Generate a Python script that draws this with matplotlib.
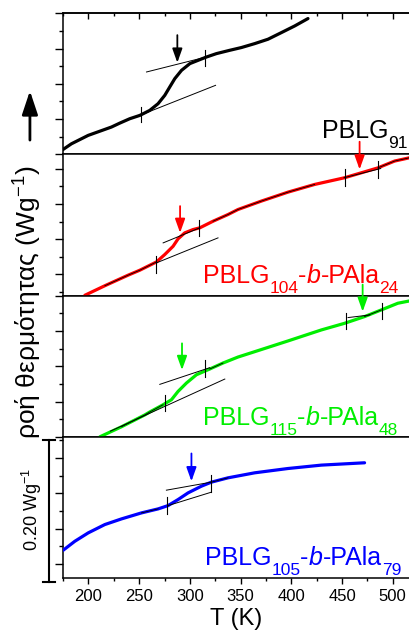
import numpy as np
import matplotlib
matplotlib.use("Agg")
import matplotlib.pyplot as plt
from matplotlib.ticker import MultipleLocator, NullFormatter
from matplotlib.transforms import blended_transform_factory, offset_copy

plt.rcParams['font.family'] = ['Liberation Sans', 'DejaVu Sans']
plt.rcParams['mathtext.fontset'] = 'custom'
plt.rcParams['mathtext.rm'] = 'Liberation Sans'
plt.rcParams['mathtext.it'] = 'Liberation Sans:italic'

# === DSC traces (T in K, heat flow in W/g, shifted per panel) ===
T_91 = [175, 183.2, 199.7, 222.6, 230.9, 240.7, 250.6, 260.4, 268.6, 275.2, 280.1, 285.1,
        291.7, 300, 309.8, 316.3, 326.1, 339.2, 350.7, 363.9, 377, 390.2, 403.3, 416.4]
q_91 = [0.0071, 0.0151, 0.027, 0.0388, 0.0444, 0.0506, 0.0553, 0.0624, 0.0719, 0.0837, 0.0955, 0.1074,
        0.1191, 0.1287, 0.1343, 0.138, 0.1428, 0.1475, 0.1514, 0.157, 0.1632, 0.1726, 0.182, 0.1925]

T_24 = [196.4, 216.1, 239.1, 250.6, 267, 275.2, 283.4, 288.3, 294.9, 303.1, 309.7, 322.8,
        337.6, 347.4, 370.4, 396.7, 423, 452.5, 469, 485.4, 501.8, 516.6]
q_24 = [-0.0295, -0.016, -0.001, 0.006, 0.0177, 0.0282, 0.0399, 0.0504, 0.0589, 0.0636, 0.066, 0.0754,
        0.0849, 0.092, 0.1039, 0.1166, 0.1275, 0.137, 0.144, 0.151, 0.1606, 0.1653]

T_48 = [211.2, 232.5, 255.5, 260.4, 273.5, 281.8, 288.3, 296.6, 306.4, 319.5, 332.6, 347.4,
        363.9, 396.7, 429.6, 452.5, 472.2, 488.6, 505, 516.6]
q_48 = [0.0, 0.0142, 0.031, 0.0352, 0.0454, 0.0525, 0.0643, 0.0762, 0.0879, 0.096, 0.1045, 0.113,
        0.1206, 0.1358, 0.1514, 0.1608, 0.1703, 0.1797, 0.1892, 0.1925]

T_79 = [175, 186.5, 199.7, 216.1, 232.5, 252.2, 268.7, 278.5, 288.4, 298.2, 311.4,
        321.2, 337.6, 363.9, 396.7, 429.6, 472.2]
q_79 = [0.0193, 0.032, 0.0439, 0.0557, 0.0637, 0.0722, 0.0779, 0.0826, 0.0912, 0.1006, 0.1101,
        0.1158, 0.1219, 0.129, 0.1351, 0.1399, 0.1432]

# baseline fits: (T0, T1, q0, q1)
fits_91 = [(250.5, 325.3, 0.0553, 0.0979), (257.2, 316.2, 0.1168, 0.1381)]
fits_24 = [(267, 327.7, 0.0164, 0.0518), (273.6, 309.7, 0.0447, 0.066), (451.9, 488.1, 0.137, 0.150)]
fits_48 = [(221.6, 334.4, 0.008, 0.0818), (270.3, 319.5, 0.0743, 0.0979), (455.9, 477.3, 0.1689, 0.1726)]
fits_79 = [(278.5, 321.2, 0.0826, 0.1016), (276.8, 321.2, 0.1044, 0.1158)]

# onset / end markers: (T, q_low, q_high)
marks_91 = [(251.5, 0.0458, 0.0672), (315.3, 0.1253, 0.1476)]
marks_24 = [(267, 0.0022, 0.0258), (309, 0.0551, 0.0778), (452.9, 0.1251, 0.1488), (485.8, 0.137, 0.1606)]
marks_48 = [(275.2, 0.0364, 0.0591), (314.5, 0.0851, 0.1088), (453.5, 0.1528, 0.175), (489.3, 0.167, 0.1892)]
marks_79 = [(277.8, 0.0713, 0.0945), (321.2, 0.1016, 0.1266)]

# Tg arrows: (T, q_tail, q_tip)
arrows_91 = [(287.6, 0.169, 0.130)]
arrows_24 = [(290.3, 0.0968, 0.0589), (467.3, 0.188, 0.1487)]
arrows_48 = [(292.2, 0.1324, 0.0946), (470.3, 0.2156, 0.1773)]
arrows_79 = [(301.5, 0.1564, 0.117)]

# parts of the trace covered by the thin fit line
overlay_24 = [(216, 267), (310, 452), (485, 517)]
overlay_48 = [(221, 275), (314, 345), (420, 440), (453, 490)]
overlay_79 = [(250, 278), (321, 350)]

# sample labels: (text, is_subscript, is_italic)
label_91 = [('PBLG', 0, 0), ('91', 1, 0)]
label_24 = [('PBLG', 0, 0), ('104', 1, 0), ('-', 0, 0), ('b', 0, 1), ('-PAla', 0, 0), ('24', 1, 0)]
label_48 = [('PBLG', 0, 0), ('115', 1, 0), ('-', 0, 0), ('b', 0, 1), ('-PAla', 0, 0), ('48', 1, 0)]
label_79 = [('PBLG', 0, 0), ('105', 1, 0), ('-', 0, 0), ('b', 0, 1), ('-PAla', 0, 0), ('79', 1, 0)]

panels = [
    dict(T=T_91, q=q_91, color='black', ylim=(0.0, 0.2), fits=fits_91, marks=marks_91,
         arrows=arrows_91, over=[], label=label_91, lpos=(429.9, 0.0227)),
    dict(T=T_24, q=q_24, color='red', ylim=(-0.03, 0.17), fits=fits_24, marks=marks_24,
         arrows=arrows_24, over=overlay_24, label=label_24, lpos=(312.6, -0.0116)),
    dict(T=T_48, q=q_48, color='#00ee00', ylim=(0.0, 0.2), fits=fits_48, marks=marks_48,
         arrows=arrows_48, over=overlay_48, label=label_48, lpos=(312.6, 0.017)),
    dict(T=T_79, q=q_79, color='blue', ylim=(-0.02, 0.18), fits=fits_79, marks=marks_79,
         arrows=arrows_79, over=overlay_79, label=label_79, lpos=(314.6, -0.0016)),
]

fig, axes = plt.subplots(4, 1, sharex=True, figsize=(4.10, 6.31), dpi=100)
fig.subplots_adjust(left=0.154, right=1.0, top=0.979, bottom=0.084, hspace=0)
renderer = fig.canvas.get_renderer()


def rich_label(ax, x, y, parts, color):
    dx = 0.0
    for s, sub, it in parts:
        tr = offset_copy(ax.transData, fig=fig, x=dx, y=-10 if sub else 0, units='dots')
        t = ax.text(x, y, s, transform=tr, color=color, fontsize=12.5 if sub else 18,
                    style='italic' if it else 'normal', ha='left', va='baseline', zorder=5)
        dx += t.get_window_extent(renderer).width


for i, (ax, p) in enumerate(zip(axes, panels)):
    T = np.array(p['T'])
    q = np.array(p['q'])
    ax.set_xlim(175, 517)
    ax.set_ylim(*p['ylim'])
    ax.plot(T, q, color=p['color'], lw=2.3, solid_capstyle='round', solid_joinstyle='round', zorder=3)
    for lo, hi in p['over']:
        m = (T >= lo) & (T <= hi)
        ax.plot(T[m], q[m], color='black', lw=0.6, zorder=4)
    for t0, t1, q0, q1 in p['fits']:
        ax.plot([t0, t1], [q0, q1], color='black', lw=0.7, zorder=4)
    for t, qlo, qhi in p['marks']:
        ax.plot([t, t], [qlo, qhi], color='black', lw=0.8, zorder=4)
    for t, qa, qb in p['arrows']:
        ax.annotate('', xy=(t, qb), xytext=(t, qa), annotation_clip=False,
                    arrowprops=dict(arrowstyle='-|>,head_length=0.7,head_width=0.25',
                                    color=p['color'], lw=1.3, shrinkA=0, shrinkB=0,
                                    mutation_scale=12), zorder=6)
    rich_label(ax, p['lpos'][0], p['lpos'][1], p['label'], p['color'])

    ax.yaxis.set_major_locator(MultipleLocator(0.05))
    ax.yaxis.set_minor_locator(MultipleLocator(0.025))
    ax.yaxis.set_major_formatter(NullFormatter())
    ax.xaxis.set_major_locator(MultipleLocator(50))
    ax.xaxis.set_minor_locator(MultipleLocator(25))
    ax.tick_params(axis='y', which='major', direction='out', length=5.5, width=1.0)
    ax.tick_params(axis='y', which='minor', direction='out', length=2.8, width=1.0)
    ax.tick_params(axis='x', which='major', direction='out', length=4.5, width=1.0, labelsize=12)
    ax.tick_params(axis='x', which='minor', direction='out', length=2.5, width=1.0)
    ax.spines['right'].set_visible(False)
    for s in ['left', 'top', 'bottom']:
        ax.spines[s].set_linewidth(1.1)

# top panel also carries small inward ticks on its top edge
top_ax = axes[0].secondary_xaxis('top')
top_ax.xaxis.set_major_locator(MultipleLocator(50))
top_ax.xaxis.set_minor_locator(MultipleLocator(25))
top_ax.tick_params(axis='x', which='major', direction='in', length=4, width=1.0, labelsize=0)
top_ax.tick_params(axis='x', which='minor', direction='in', length=2.5, width=1.0)
top_ax.xaxis.set_major_formatter(NullFormatter())
top_ax.spines['top'].set_linewidth(1.1)

axes[-1].set_xlabel('T (K)', fontsize=17, labelpad=3)

# y label and direction arrow
fig.text(0.068, 0.521, 'ροή θερμότητας (Wg$^{-1}$)', rotation=90, fontsize=19,
         ha='center', va='center')
fig.patches.append(matplotlib.patches.FancyArrowPatch(
    (0.073, 0.778), (0.073, 0.856), transform=fig.transFigure,
    arrowstyle='-|>,head_length=0.9,head_width=0.3', mutation_scale=16,
    lw=2.0, color='black', shrinkA=0, shrinkB=0))

# 0.20 W/g scale bar
ax4 = axes[-1]
tr = blended_transform_factory(fig.transFigure, ax4.transData)
xb, cap = 0.120, 0.014
ax4.plot([xb, xb], [-0.025, 0.175], color='black', lw=1.5, transform=tr, clip_on=False)
ax4.plot([xb - cap, xb + cap], [-0.025, -0.025], color='black', lw=1.5, transform=tr, clip_on=False)
ax4.plot([xb - cap, xb + cap], [0.175, 0.175], color='black', lw=1.5, transform=tr, clip_on=False)
fig.text(0.078, 0.192, '0.20 Wg$^{-1}$', rotation=90, fontsize=13, ha='center', va='center')

fig.savefig('out.png', dpi=100)
